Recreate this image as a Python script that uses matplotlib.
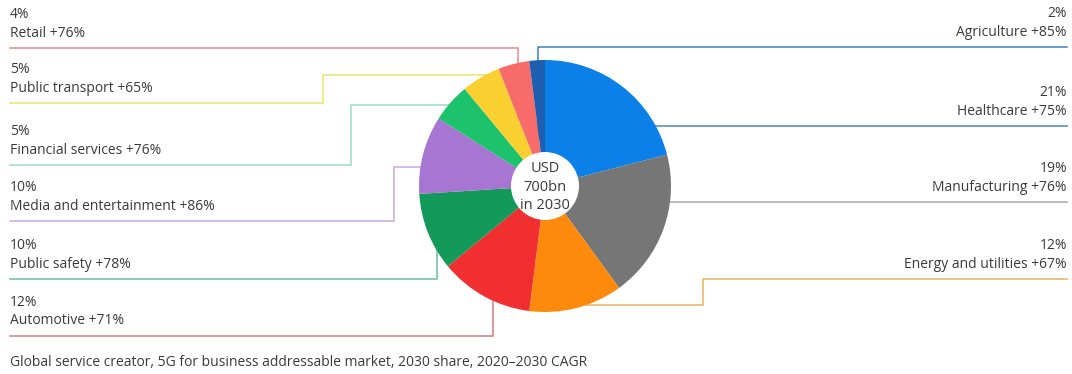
import matplotlib
matplotlib.use("Agg")
import matplotlib.pyplot as plt
from matplotlib.patches import Circle

# slices, clockwise from 12 o'clock
sectors = ["Healthcare", "Manufacturing", "Energy and utilities", "Automotive",
           "Public safety", "Media and entertainment", "Financial services",
           "Public transport", "Retail", "Agriculture"]
shares = [21, 19, 12, 12, 10, 10, 5, 5, 4, 2]
cagr = [75, 76, 67, 71, 78, 86, 76, 65, 76, 85]
slice_colors = ["#0a80e8", "#767676", "#fd8a0c", "#f22f30", "#13995a",
                "#a776d3", "#1dc36c", "#f9d030", "#f86b6b", "#1f5fb0"]
line_colors = ["#4a88c5", "#a8a8a8", "#e6b460", "#d97a7e", "#6cbfa0",
               "#c9a8dc", "#9ddbc8", "#ece070", "#e88a8a", "#3f7fc0"]

footer = "Global service creator, 5G for business addressable market, 2030 share, 2020\u20132030 CAGR"
center_text = "USD\n700bn\nin 2030"

W, H = 1072, 374
cx, cy, R, r_hole = 545, 186, 126, 34

# leader routing: side, label line y, elbow x, y of last horizontal run (None = vertical into pie)
routes = {
    "Healthcare": ("R", 126, None, None),
    "Manufacturing": ("R", 202, None, None),
    "Energy and utilities": ("R", 279, 703, 305),
    "Automotive": ("L", 336, 493, None),
    "Public safety": ("L", 279, 437, None),
    "Media and entertainment": ("L", 221, 394, 167),
    "Financial services": ("L", 165, 351, 105),
    "Public transport": ("L", 103, 323, 75),
    "Retail": ("L", 48, 518, None),
    "Agriculture": ("R", 47, 538, None),
}

plt.rcParams["font.family"] = ["Open Sans", "DejaVu Sans"]
txt_col = "#3a3a3a"

fig = plt.figure(figsize=(W / 100, H / 100), dpi=100)
ax = fig.add_axes([0, 0, 1, 1])

ax.pie(shares, colors=slice_colors, center=(cx, cy), radius=R,
       startangle=-90, counterclock=True,
       wedgeprops=dict(linewidth=0, zorder=3))
ax.add_patch(Circle((cx, cy), r_hole, facecolor="white", edgecolor="none", zorder=4))
ax.text(cx, cy + 1, center_text, ha="center", va="center", fontsize=10.5,
        color=txt_col, linespacing=1.35, zorder=5)

for name, share, g, lc in zip(sectors, shares, cagr, line_colors):
    side, ly, ex, ay = routes[name]
    x0 = 10 if side == "L" else 1067
    if ex is None:
        xs, ys = [x0, cx], [ly, ly]
    elif ay is None:
        xs, ys = [x0, ex, ex], [ly, ly, cy]
    else:
        xs, ys = [x0, ex, ex, cx], [ly, ly, ay, ay]
    ax.plot(xs, ys, color=lc, lw=1.1, zorder=1, solid_joinstyle="miter")
    ha = "left" if side == "L" else "right"
    ax.text(x0, ly - 34, f"{share}%", ha=ha, va="center", fontsize=10, color=txt_col)
    ax.text(x0, ly - 15, f"{name} +{g}%", ha=ha, va="center", fontsize=10, color=txt_col)

ax.text(10, 363, footer, ha="left", va="center", fontsize=10, color=txt_col)

ax.set_xlim(0, W)
ax.set_ylim(H, 0)
ax.set_aspect("equal")
ax.axis("off")

fig.savefig("out.png", dpi=100)
